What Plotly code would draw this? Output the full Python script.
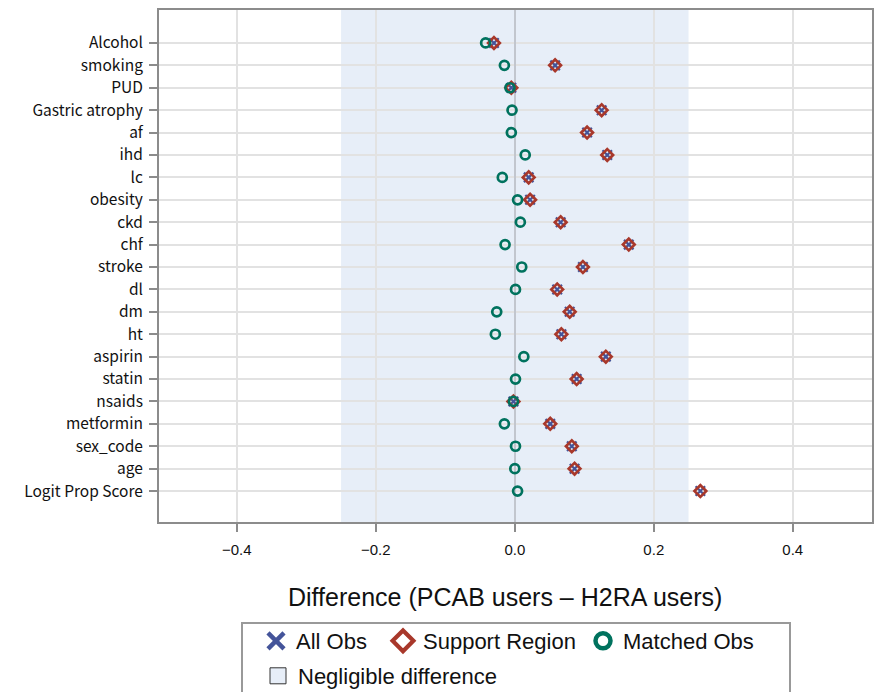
import plotly.graph_objects as go

categories = ["Alcohol", "smoking", "PUD", "Gastric atrophy", "af", "ihd", "lc", "obesity",
              "ckd", "chf", "stroke", "dl", "dm", "ht", "aspirin", "statin", "nsaids",
              "metformin", "sex_code", "age", "Logit Prop Score"]
all_obs = [-0.030, 0.058, -0.005, 0.125, 0.104, 0.133, 0.020, 0.022, 0.066, 0.164, 0.098,
           0.061, 0.079, 0.067, 0.131, 0.089, -0.002, 0.051, 0.082, 0.086, 0.267]
support_region = list(all_obs)
matched_obs = [-0.042, -0.015, -0.007, -0.004, -0.005, 0.015, -0.018, 0.004, 0.008, -0.014,
               0.010, 0.001, -0.026, -0.028, 0.013, 0.001, -0.002, -0.015, 0.001, 0.000, 0.004]
negligible = [-0.25, 0.25]
x_ticks = [-0.4, -0.2, 0.0, 0.2, 0.4]
x_ticktext = ["\u22120.4", "\u22120.2", "0.0", "0.2", "0.4"]

BLUE = "#44549a"
RED = "#a8382b"
TEAL = "#00725e"
BAND = "#e7eef8"
FRAME = "#8c8c8c"
FONT = "Liberation Sans, Arial, sans-serif"

# plot-area geometry (pixels) used to place legends in paper units
L, T, W, H = 159, 10, 713, 512
def px(xp):
    return (xp - L) / W
def py(yp):
    return (T + H - yp) / H

fig = go.Figure()

# negligible difference band
fig.add_shape(type="rect", xref="x", yref="paper", x0=negligible[0], x1=negligible[1],
              y0=0, y1=1, fillcolor=BAND, line_width=0, layer="below")

fig.add_trace(go.Scatter(x=all_obs, y=categories, mode="markers", showlegend=False,
                         marker=dict(symbol="x-thin", size=9.5, line=dict(color=BLUE, width=2.2))))
fig.add_trace(go.Scatter(x=support_region, y=categories, mode="markers", showlegend=False,
                         marker=dict(symbol="diamond-open", size=9, color=RED, line=dict(width=2.7))))
fig.add_trace(go.Scatter(x=matched_obs, y=categories, mode="markers", showlegend=False,
                         marker=dict(symbol="circle-open", size=9, color=TEAL, line=dict(width=2.7))))

# legend entries (legend-only traces)
fig.add_trace(go.Scatter(x=[None], y=[None], mode="markers", name="All Obs", legend="legend",
                         marker=dict(symbol="x-thin", size=16, line=dict(color=BLUE, width=4.5))))
fig.add_trace(go.Scatter(x=[None], y=[None], mode="markers", name="Support Region", legend="legend2",
                         marker=dict(symbol="diamond-open", size=16, color=RED, line=dict(width=4.2))))
fig.add_trace(go.Scatter(x=[None], y=[None], mode="markers", name="Matched Obs", legend="legend3",
                         marker=dict(symbol="circle-open", size=15, color=TEAL, line=dict(width=4.5))))
fig.add_trace(go.Scatter(x=[None], y=[None], mode="markers", name="Negligible difference",
                         legend="legend4",
                         marker=dict(symbol="square", size=16, color=BAND, line=dict(color="#333", width=1))))

def leg(xpix, ypix):
    return dict(orientation="h", x=px(xpix), xanchor="left", y=py(ypix), yanchor="middle",
                font=dict(size=22, family=FONT, color="#111"), bgcolor="rgba(0,0,0,0)",
                itemsizing="trace", borderwidth=0)

n = len(categories)
fig.update_layout(
    width=875, height=692,
    margin=dict(l=L, r=875 - L - W, t=T, b=692 - T - H, autoexpand=False),
    paper_bgcolor="white", plot_bgcolor="white",
    font=dict(family=FONT, color="#111"),
    xaxis=dict(range=[-0.512, 0.514], tickvals=x_ticks, ticktext=x_ticktext,
               showgrid=True, gridcolor="#e2e2e2", gridwidth=1.5,
               zeroline=True, zerolinecolor="#c2c6ce", zerolinewidth=2,
               ticks="outside", ticklen=8, tickcolor=FRAME, tickwidth=1.5,
               ticklabelstandoff=5,
               tickfont=dict(size=15, family=FONT, color="#111"),
               showline=True, linecolor=FRAME, linewidth=2, mirror=True),
    yaxis=dict(type="category", categoryorder="array", categoryarray=categories,
               range=[n - 1 + 1.38, -1.47],
               showgrid=True, gridcolor="#e2e2e2", gridwidth=1.5,
               ticks="outside", ticklen=8, tickcolor=FRAME, tickwidth=1.5,
               ticklabelstandoff=3,
               tickfont=dict(size=15.5, family="Noto Sans CJK JP, Noto Sans, sans-serif", color="#111"),
               showline=True, linecolor=FRAME, linewidth=2, mirror=True),
    legend=leg(256, 641),
    legend2=leg(383, 641),
    legend3=leg(583, 641),
    legend4=leg(258, 676),
    showlegend=True,
)

# legend frame
fig.add_shape(type="rect", xref="paper", yref="paper",
              x0=px(242), x1=px(790), y0=py(623), y1=py(705),
              line=dict(color="#999999", width=2), fillcolor="rgba(0,0,0,0)")

fig.add_annotation(text="Difference (PCAB users \u2013 H2RA users)", xref="paper", yref="paper",
                   x=px(505), y=0, yanchor="middle", xanchor="center", yshift=-(597 - (T + H)),
                   showarrow=False, font=dict(size=25, family=FONT, color="#111"))

fig.write_html("out.html")
